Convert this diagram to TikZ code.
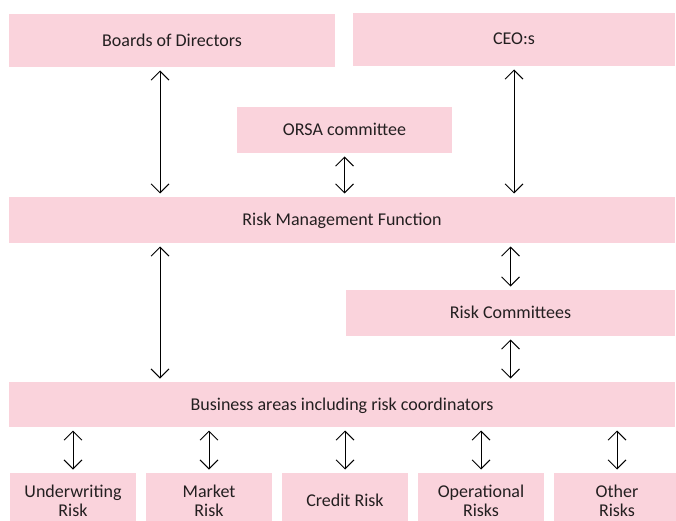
\documentclass[tikz,border=0pt]{standalone}
\usepackage{fontspec}
\setmainfont{Carlito}
\usetikzlibrary{arrows.meta}
\definecolor{boxpink}{RGB}{250,211,220}
\definecolor{boxtext}{RGB}{35,31,32}

\begin{document}
\begin{tikzpicture}[x=1pt,y=-1pt,
orgbox/.style={fill=boxpink,rectangle,inner sep=0pt,outer sep=0pt,text=boxtext,
  text depth=1pt,font=\fontsize{18}{19}\selectfont},
riskbox/.style={orgbox,minimum width=126pt,minimum height=56pt,align=center},
link/.style={<->,line width=0.9pt,shorten <=3.5pt,shorten >=3.5pt},
>={Straight Barb[length=9pt,width=18pt,line width=0.9pt]}]

\useasboundingbox (0,0) rectangle (676,521);

\draw (172,40.5) node[orgbox,minimum width=326pt,minimum height=53pt] (BD) {Boards of Directors};
\draw (514,39.5) node[orgbox,minimum width=322pt,minimum height=53pt] (CEO) {CEO:s};
\draw (344.5,130) node[orgbox,minimum width=215pt,minimum height=46pt] (ORSA) {ORSA committee};
\draw (342,220) node[orgbox,minimum width=666pt,minimum height=46pt] (RMF) {Risk Management Function};
\draw (510.5,313) node[orgbox,minimum width=329pt,minimum height=46pt] (RC) {Risk Committees};
\draw (342,404.5) node[orgbox,minimum width=666pt,minimum height=45pt] (BA) {Business areas including risk coordinators};

% risk categories (cut by the lower edge)
\draw (73,501) node[riskbox] (UR) {Underwriting\\Risk};
\draw (209,501) node[riskbox] (MR) {Market\\Risk};
\draw (345,501) node[riskbox] (CR) {Credit Risk};
\draw (481,501) node[riskbox] (OR) {Operational\\Risks};
\draw (617,501) node[riskbox] (XR) {Other\\Risks};

\draw[link] ([xshift=-12pt]BD.south) -- ([xshift=-12pt]BD.south |- RMF.north);
\draw[link] (CEO.south) -- (CEO.south |- RMF.north);
\draw[link] (ORSA.south) -- (ORSA.south |- RMF.north);
\draw[link] (RC.north) -- (RC.north |- RMF.south);
\draw[link] (RC.south) -- (RC.south |- BA.north);
\draw[link] ([xshift=-12pt]BD.south |- RMF.south) -- ([xshift=-12pt]BD.south |- BA.north);

\foreach \r in {UR,MR,CR,OR,XR}
  \draw[link] (BA.south -| \r.north) -- (\r.north);

\end{tikzpicture}
\end{document}
